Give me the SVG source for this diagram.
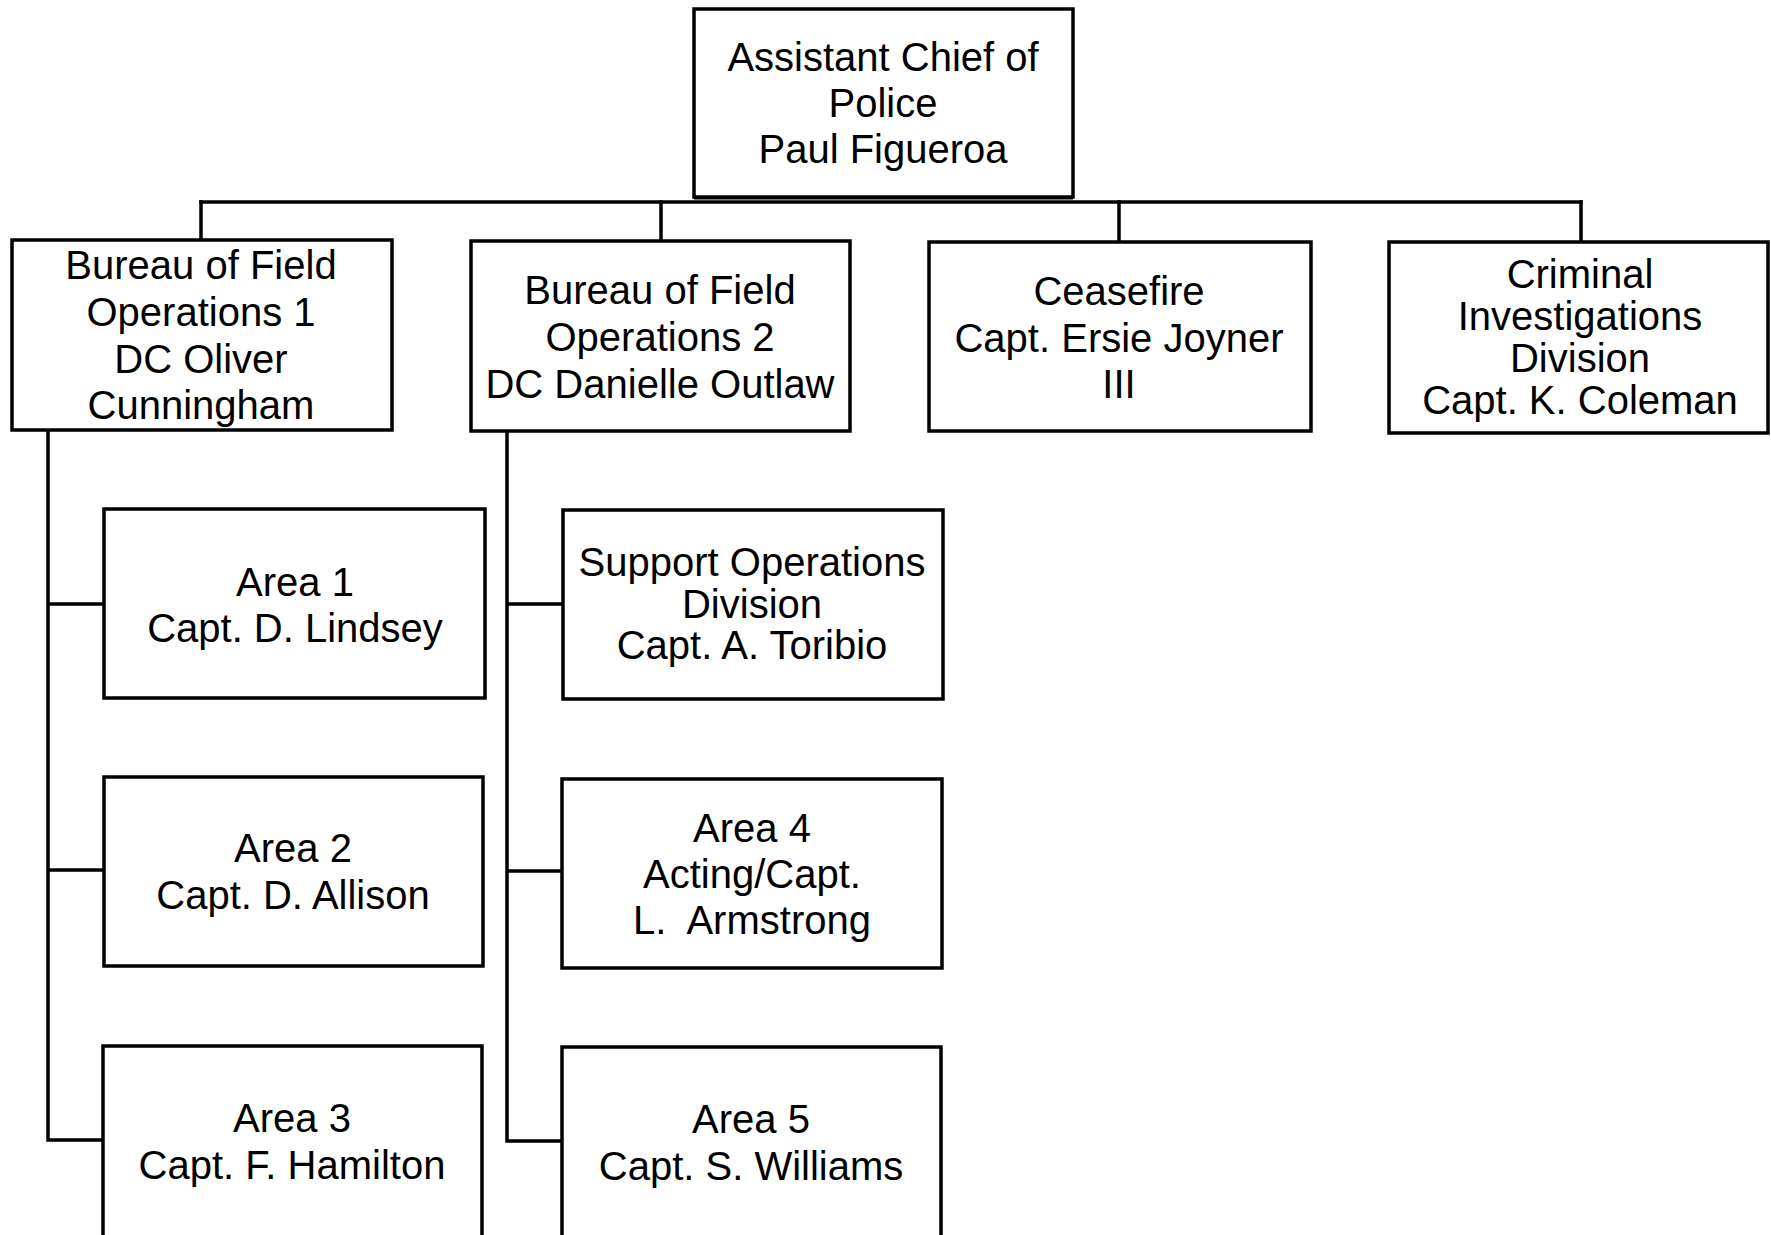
<svg xmlns="http://www.w3.org/2000/svg" width="1771" height="1235" viewBox="0 0 1771 1235">
<style>
.box{fill:#fff;stroke:#000;stroke-width:3.5}
.t{font-family:"Liberation Sans",Arial,sans-serif;font-size:40px;fill:#000;text-anchor:middle}
.c{fill:none;stroke:#000;stroke-width:3.5;stroke-linecap:square}
</style>
<rect width="1771" height="1235" fill="#fff"/>
<g id="connectors">
<path class="c" d="M201,202 H1581"/>
<path class="c" d="M201,202 V239 M661,202 V241 M1119,202 V242 M1581,202 V242"/>
<path class="c" d="M48,430 V1140 H103 M48,604 H104 M48,870 H104"/>
<path class="c" d="M507,431 V1141 H561 M507,604 H562 M507,871 H561"/>
</g>
<g id="acp">
<rect class="box" x="694" y="9" width="379" height="188"/>
<line x1="694" y1="198" x2="1073" y2="198" stroke="#000" stroke-width="3"/>
<text class="t" x="883" y="71">Assistant Chief of</text>
<text class="t" x="883" y="117">Police</text>
<text class="t" x="883" y="163">Paul Figueroa</text>
</g>
<g id="bfo1">
<rect class="box" x="12" y="240" width="380" height="190"/>
<text class="t" x="201" y="279">Bureau of Field</text>
<text class="t" x="201" y="326">Operations 1</text>
<text class="t" x="201" y="373">DC Oliver</text>
<text class="t" x="201" y="419">Cunningham</text>
</g>
<g id="bfo2">
<rect class="box" x="471" y="241" width="379" height="190"/>
<text class="t" x="660" y="304">Bureau of Field</text>
<text class="t" x="660" y="351">Operations 2</text>
<text class="t" x="660" y="398">DC Danielle Outlaw</text>
</g>
<g id="ceasefire">
<rect class="box" x="929" y="242" width="382" height="189"/>
<text class="t" x="1119" y="305">Ceasefire</text>
<text class="t" x="1119" y="352">Capt. Ersie Joyner</text>
<text class="t" x="1119" y="398">III</text>
</g>
<g id="cid">
<rect class="box" x="1389" y="242" width="379" height="191"/>
<text class="t" x="1580" y="288">Criminal</text>
<text class="t" x="1580" y="330">Investigations</text>
<text class="t" x="1580" y="372">Division</text>
<text class="t" x="1580" y="414">Capt. K. Coleman</text>
</g>
<g id="area1">
<rect class="box" x="104" y="509" width="381" height="189"/>
<text class="t" x="295" y="596">Area 1</text>
<text class="t" x="295" y="642">Capt. D. Lindsey</text>
</g>
<g id="area2">
<rect class="box" x="104" y="777" width="379" height="189"/>
<text class="t" x="293" y="862">Area 2</text>
<text class="t" x="293" y="909">Capt. D. Allison</text>
</g>
<g id="area3">
<rect class="box" x="103" y="1046" width="379" height="192"/>
<text class="t" x="292" y="1132">Area 3</text>
<text class="t" x="292" y="1179">Capt. F. Hamilton</text>
</g>
<g id="sod">
<rect class="box" x="563" y="510" width="380" height="189"/>
<text class="t" x="752" y="576">Support Operations</text>
<text class="t" x="752" y="618">Division</text>
<text class="t" x="752" y="659">Capt. A. Toribio</text>
</g>
<g id="area4">
<rect class="box" x="562" y="779" width="380" height="189"/>
<text class="t" x="752" y="842">Area 4</text>
<text class="t" x="752" y="888">Acting/Capt.</text>
<text class="t" x="752" y="934" xml:space="preserve">L.  Armstrong</text>
</g>
<g id="area5">
<rect class="box" x="562" y="1047" width="379" height="191"/>
<text class="t" x="751" y="1133">Area 5</text>
<text class="t" x="751" y="1180">Capt. S. Williams</text>
</g>
</svg>
